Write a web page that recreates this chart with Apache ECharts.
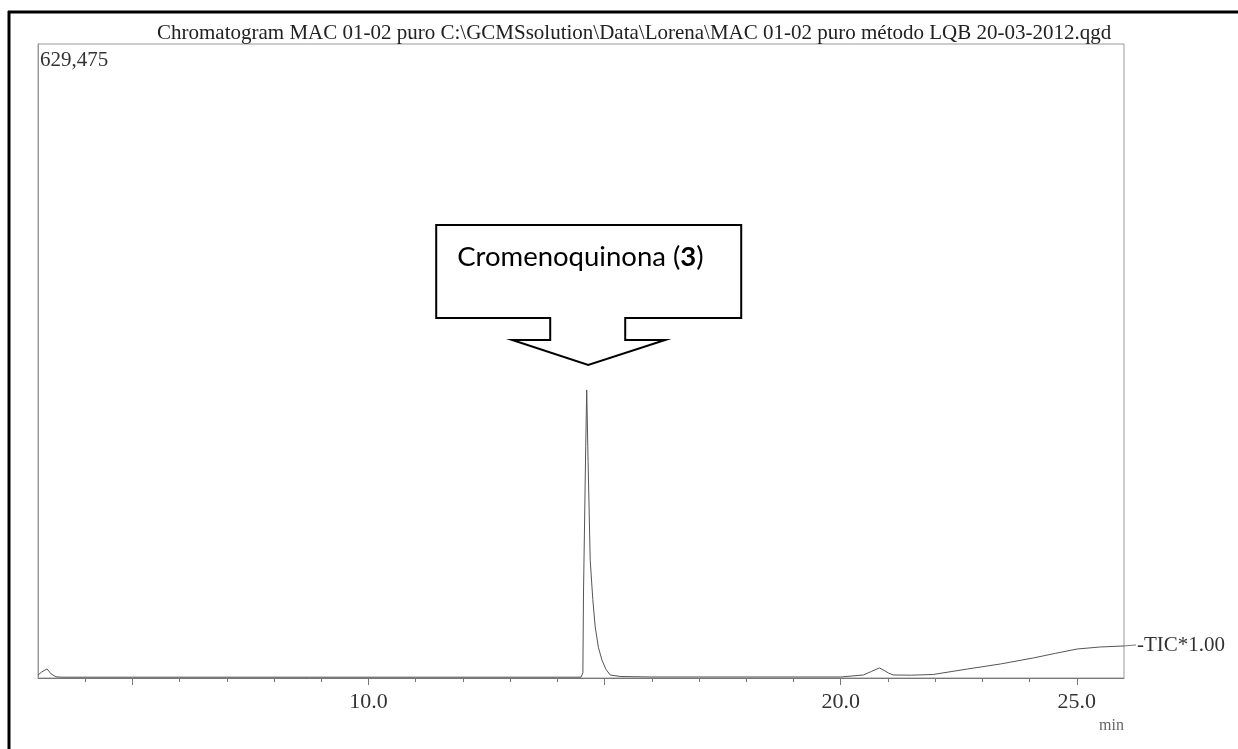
<!DOCTYPE html>
<html>
<head>
<meta charset="utf-8">
<script src="https://cdn.jsdelivr.net/npm/echarts@6/dist/echarts.min.js"></script>
<style>html,body{margin:0;padding:0;background:#fff}#c{width:1238px;height:749px}</style>
</head>
<body>
<div id="c"></div>
<script>
const titleText = 'Chromatogram MAC 01-02 puro C:\\GCMSsolution\\Data\\Lorena\\MAC 01-02 puro método LQB 20-03-2012.qgd';
const yMaxValue = 629475;
const xMin = 3, xMax = 26;
const xTickLabels = [10, 20, 25];
const xMinorTicks = [4,5,6,7,8,9,10,11,12,13,14,15,16,17,18,19,20,21,22,23,24,25];
const xMajorTicks = [5,10,15,20,25];
const times = [3.00, 3.08, 3.19, 3.28, 3.38, 3.50, 5.0, 8.0, 11.0, 14.0, 14.50, 14.54, 14.553, 14.60, 14.621, 14.65, 14.695, 14.75, 14.801, 14.87, 14.943, 15.03, 15.119, 15.33, 16.0, 18.0, 20.0, 20.48, 20.65, 20.82, 20.92, 21.01, 21.11, 21.5, 21.96, 22.68, 23.38, 24.08, 24.55, 25.01, 25.5, 26.0];
const intensity = [3000, 6000, 9000, 4000, 1200, 800, 800, 800, 800, 800, 800, 5000, 84400, 230000, 286000, 215000, 117000, 78000, 50600, 30000, 17900, 8500, 3000, 1500, 1000, 1000, 1000, 3000, 6500, 10000, 7500, 5000, 3000, 2800, 3500, 8900, 13900, 19900, 24500, 28800, 30800, 31800];
const seriesLabel = '-TIC*1.00';
const peakName = 'Cromenoquinona (';
const peakNumber = '3';
const peakIndex = 14;

const serif = '"Liberation Serif", "DejaVu Serif", serif';
const chart = echarts.init(document.getElementById('c'), null, {renderer: 'canvas'});
const data = times.map((t, i) => [t, intensity[i]]);

chart.setOption({
  animation: false,
  backgroundColor: '#fff',
  title: {
    text: titleText, left: 152, top: 18,
    textStyle: {fontFamily: serif, fontSize: 21, fontWeight: 'normal', color: '#222'}
  },
  grid: {left: 38, right: 114, top: 44, bottom: 71, show: true, borderColor: '#999', borderWidth: 1},
  xAxis: [{
    type: 'value', min: xMin, max: xMax, interval: 1,
    axisLine: {lineStyle: {color: '#777', width: 1}},
    axisTick: {show: true, customValues: xMinorTicks, length: 4, lineStyle: {color: '#777'}},
    axisLabel: {customValues: xTickLabels, formatter: v => v.toFixed(1), fontFamily: serif, fontSize: 22, color: '#333', margin: 13},
    splitLine: {show: false},
    name: 'min', nameLocation: 'end', nameGap: 0,
    nameTextStyle: {fontFamily: serif, fontSize: 16, color: '#666', align: 'right', verticalAlign: 'top', padding: [40, 0, 0, 0]}
  }, {
    type: 'value', min: xMin, max: xMax, interval: 1, position: 'bottom',
    axisLine: {show: false},
    axisTick: {show: true, customValues: xMajorTicks, length: 7, lineStyle: {color: '#777'}},
    axisLabel: {show: false}, splitLine: {show: false}
  }],
  yAxis: {
    type: 'value', min: 0, max: yMaxValue,
    axisLine: {show: true, lineStyle: {color: '#999'}},
    axisTick: {show: false},
    splitLine: {show: false},
    axisLabel: {
      inside: true, showMinLabel: false, showMaxLabel: true, margin: 2,
      verticalAlign: 'top', padding: [6, 0, 0, 0],
      customValues: [yMaxValue],
      formatter: v => v === yMaxValue ? v.toLocaleString('en-US') : '',
      fontFamily: serif, fontSize: 21, color: '#333'
    }
  },
  series: [{
    type: 'line', data: data, showSymbol: false, clip: false,
    lineStyle: {color: '#555', width: 1},
    endLabel: {show: true, formatter: seriesLabel, distance: 13, fontFamily: serif, fontSize: 21, color: '#333'}
  }]
});

function drawCallout() {
  const p = chart.convertToPixel({gridIndex: 0}, data[peakIndex]);
  const tx = p[0] + 1.5, ty = p[1] - 25;
  const rel = [[-152,-140],[153,-140],[153,-47],[37,-47],[37,-25],[77,-25],[0,0],[-76,-25],[-38,-25],[-38,-47],[-152,-47]];
  const end = chart.convertToPixel({gridIndex: 0}, data[data.length - 1]);
  chart.setOption({
    graphic: [
      {type: 'line', shape: {x1: 8, y1: 12, x2: 1238, y2: 12}, style: {stroke: '#000', lineWidth: 3}},
      {type: 'line', shape: {x1: 9, y1: 11, x2: 9, y2: 749}, style: {stroke: '#000', lineWidth: 3}},
      {type: 'line', shape: {x1: end[0], y1: end[1], x2: end[0] + 12, y2: end[1] - 1}, style: {stroke: '#777', lineWidth: 1}},
      {type: 'polygon', shape: {points: rel.map(q => [tx + q[0], ty + q[1]])}, style: {fill: '#fff', stroke: '#000', lineWidth: 2}},
      {type: 'text', x: tx - 131, y: ty - 108,
        style: {
          text: '{n|' + peakName + '}{b|' + peakNumber + '}{n|)}',
          verticalAlign: 'middle',
          rich: {
            n: {fontFamily: 'Lato, "Open Sans", sans-serif', fontSize: 27.5, fill: '#000'},
            b: {fontFamily: 'Lato, "Open Sans", sans-serif', fontSize: 27.5, fontWeight: 'bold', fill: '#000'}
          }
        }}
    ]
  });
}
drawCallout();
</script>
</body>
</html>
